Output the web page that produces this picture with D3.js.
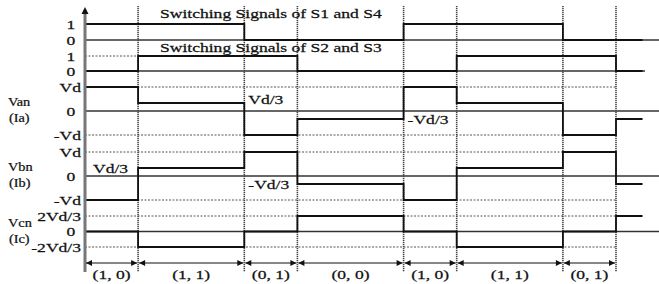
<!DOCTYPE html>
<html>
<head>
<meta charset="utf-8">
<script src="https://cdn.jsdelivr.net/npm/d3@7"></script>
<style>
html,body{margin:0;padding:0;background:#fff;}
svg{display:block;}
text{font-family:"Liberation Serif","Times New Roman",serif;font-size:13px;fill:#111;stroke:#111;stroke-width:0.25;}
</style>
</head>
<body>
<svg id="chart" width="659" height="284"></svg>
<script>
// ---- data ----
const intervalLabels = ["(1, 0)", "(1, 1)", "(0, 1)", "(0, 0)", "(1, 0)", "(1, 1)", "(0, 1)"];
const intervalWidths = [1, 2, 1, 2, 1, 2, 1];
const tailWidth = 0.5;
const s1s4 = [1, 1, 0, 0, 1, 1, 0, 0];
const s2s3 = [0, 1, 1, 0, 0, 1, 1, 0];
const van = [1, 1/3, -1, -1/3, 1, 1/3, -1, -1/3];
const vbn = [-1, 1/3, 1, -1/3, -1, 1/3, 1, -1/3];
const vcn = [0, -2/3, 0, 2/3, 0, -2/3, 0, 2/3];
const switchTickLabels = ["1", "0"];
const switchTickValues = [1, 0];
const phaseTickLabels = ["Vd", "0", "-Vd"];
const phaseTickValues = [1, 0, -1];
const vcnTickLabels = ["2Vd/3", "0", "-2Vd/3"];
const vcnTickValues = [2/3, 0, -2/3];
const titles = ["Switching Signals of S1 and S4", "Switching Signals of S2 and S3"];
const rowNames = [["Van", "(Ia)"], ["Vbn", "(Ib)"], ["Vcn", "(Ic)"]];

// ---- layout ----
const svg = d3.select("#chart");
const W = 659;
const boundaries = [0];
intervalWidths.forEach(w => boundaries.push(boundaries[boundaries.length - 1] + w));
const tEnd = boundaries[boundaries.length - 1];
const x = d3.scaleLinear().domain([0, tEnd]).range([85, 616]);
const SX = 1.35;

function addText(px, py, str, anchor, sx) {
  return svg.append("text")
    .attr("transform", `translate(${px},${py}) scale(${sx || SX},1)`)
    .attr("text-anchor", anchor || "start")
    .text(str);
}

const rows = [
  {vals: s1s4, y: d3.scaleLinear().domain([0, 1]).range([40, 24]), ticks: switchTickValues, labels: switchTickLabels, zeroEnd: W, grid: []},
  {vals: s2s3, y: d3.scaleLinear().domain([0, 1]).range([71, 56]), ticks: switchTickValues, labels: switchTickLabels, zeroEnd: 645, grid: [[1, 0, 1]]},
  {vals: van, y: d3.scaleLinear().domain([-1, 1]).range([135, 87]), ticks: phaseTickValues, labels: phaseTickLabels, zeroEnd: W, grid: [[1, 0, tEnd], [-1, 0, tEnd]], name: rowNames[0], nameDy: [-5, 11]},
  {vals: vbn, y: d3.scaleLinear().domain([-1, 1]).range([200, 152]), ticks: phaseTickValues, labels: phaseTickLabels, zeroEnd: W, grid: [[1, 0, tEnd], [-1, 0, tEnd]], name: rowNames[1], nameDy: [-5, 11]},
  {vals: vcn, y: d3.scaleLinear().domain([-2/3, 2/3]).range([247, 216]), ticks: vcnTickValues, labels: vcnTickLabels, zeroEnd: W, grid: [[2/3, 0, tEnd], [-2/3, 0, tEnd]], name: rowNames[2], nameDy: [-5, 11]}
];

// dotted grid lines
rows.forEach(r => {
  r.grid.forEach(([v, t0, t1]) => {
    svg.append("line")
      .attr("x1", x(t0)).attr("x2", x(t1))
      .attr("y1", r.y(v)).attr("y2", r.y(v))
      .attr("stroke", "#555").attr("stroke-width", 1)
      .attr("stroke-dasharray", "2,1.5");
  });
  svg.append("line")
    .attr("x1", x(0)).attr("x2", r.zeroEnd)
    .attr("y1", r.y(0)).attr("y2", r.y(0))
    .attr("stroke", "#333").attr("stroke-width", 1.4);
});

// vertical dotted dividers
boundaries.slice(1).forEach(t => {
  svg.append("line")
    .attr("x1", x(t)).attr("x2", x(t))
    .attr("y1", 6).attr("y2", 272)
    .attr("stroke", "#444").attr("stroke-width", 1.6)
    .attr("stroke-dasharray", "1.2,0.8");
});

// waveforms
const times = boundaries.slice();
times.push(tEnd + tailWidth);
rows.forEach(r => {
  const pts = [];
  r.vals.forEach((v, i) => {
    pts.push([x(times[i]), r.y(v)]);
    pts.push([x(times[i + 1]), r.y(v)]);
  });
  svg.append("path")
    .attr("d", d3.line()(pts))
    .attr("fill", "none")
    .attr("stroke", "#111")
    .attr("stroke-width", 1.8);
});

// y axis
svg.append("line")
  .attr("x1", x(0)).attr("x2", x(0))
  .attr("y1", 12).attr("y2", 272)
  .attr("stroke", "#777").attr("stroke-width", 3);
svg.append("path")
  .attr("d", d3.line()([[x(0) - 3.5, 14], [x(0), 7], [x(0) + 3.5, 14]]) + "Z")
  .attr("fill", "#111");

// tick labels and row names
rows.forEach(r => {
  r.ticks.forEach((v, i) => {
    const lab = r.labels[i];
    if (lab.length === 1) addText(71, r.y(v) + 4.5, lab, "middle");
    else addText(81, r.y(v) + 4.5, lab, "end");
  });
  if (r.name) {
    const mid = r.y(0);
    addText(8, mid + r.nameDy[0], r.name[0], "start", 1.1);
    addText(9, mid + r.nameDy[1], r.name[1], "start", 1.1);
  }
});

// titles
addText(160, 18, titles[0], "start");
addText(160, 52, titles[1], "start");

// annotations
const annotations = [
  {row: 2, t: 3, v: 1/3, text: "Vd/3"},
  {row: 2, t: 6, v: -1/3, text: "-Vd/3"},
  {row: 3, t: 0, v: 1/3, text: "Vd/3"},
  {row: 3, t: 3, v: -1/3, text: "-Vd/3"}
];
annotations.forEach(a => {
  const r = rows[a.row];
  addText(x(a.t) + (a.t === 0 ? 8 : 4), r.y(a.v) + (a.row === 2 && a.v > 0 ? 1 : 5), a.text, "start");
});

// interval arrows
const defs = svg.append("defs");
defs.append("marker").attr("id", "ah").attr("viewBox", "0 0 10 10")
  .attr("refX", 10).attr("refY", 5).attr("markerWidth", 8).attr("markerHeight", 6)
  .attr("markerUnits", "userSpaceOnUse").attr("orient", "auto-start-reverse")
  .append("path").attr("d", "M0,0L10,5L0,10Z").attr("fill", "#111");

intervalWidths.forEach((w, i) => {
  const t0 = boundaries[i], t1 = boundaries[i + 1];
  svg.append("line")
    .attr("x1", x(t0) + 1).attr("x2", x(t1) - 1)
    .attr("y1", 263).attr("y2", 263)
    .attr("stroke", "#111").attr("stroke-width", 1.2)
    .attr("marker-start", "url(#ah)").attr("marker-end", "url(#ah)");
  addText((x(t0) + x(t1)) / 2, 279, intervalLabels[i], "middle");
});
</script>
</body>
</html>
